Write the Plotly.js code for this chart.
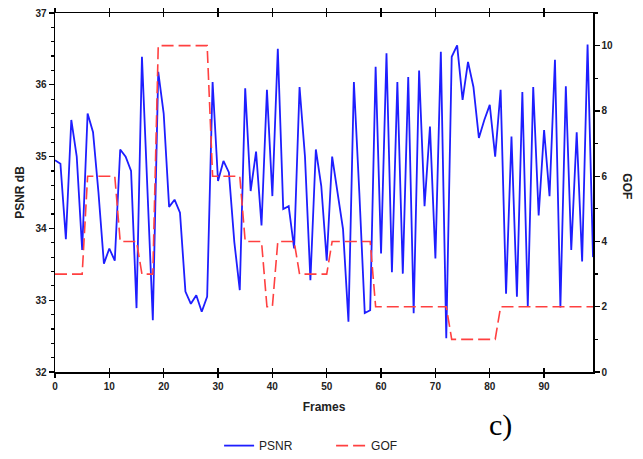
<!DOCTYPE html>
<html>
<head>
<meta charset="utf-8">
<script src="https://cdn.plot.ly/plotly-3.0.1.min.js"></script>
<style>html,body{margin:0;padding:0;background:#fff;}#chart{width:643px;height:459px;}</style>
</head>
<body>
<div id="chart"></div>
<script>
// Frame indices
const frames = [];
for (let i = 0; i < 100; i++) frames.push(i);

// PSNR (dB) per frame
const psnr = [
  34.95, 34.90, 33.85, 35.51, 35.00, 33.70, 35.60, 35.34, 34.50, 33.51,
  33.72, 33.55, 35.10, 35.00, 34.80, 32.89, 36.39, 34.60, 32.72, 36.18,
  35.60, 34.30, 34.40, 34.22, 33.12, 32.95, 33.07, 32.84, 33.05, 36.04,
  34.66, 34.94, 34.78, 33.81, 33.14, 35.95, 34.52, 35.07, 34.04, 35.93,
  34.45, 36.50, 34.27, 34.31, 33.72, 35.97, 35.00, 33.28, 35.10, 34.59,
  33.55, 35.00, 34.50, 33.99, 32.70, 36.04, 34.50, 32.82, 32.86, 36.25,
  33.65, 36.44, 33.39, 36.04, 33.37, 36.11, 32.82, 36.20, 34.31, 35.42,
  33.58, 36.46, 32.47, 36.39, 36.55, 35.79, 36.32, 35.97, 35.26, 35.51,
  35.72, 35.00, 35.93, 33.09, 35.28, 33.05, 35.90, 32.91, 35.97, 34.18,
  35.37, 34.45, 36.35, 32.90, 35.98, 33.70, 35.34, 33.54, 36.56, 33.60
];

// GOF per frame
const gof = [
  3, 3, 3, 3, 3, 3, 6, 6, 6, 6,
  6, 6, 4, 4, 4, 4, 3, 3, 3, 10,
  10, 10, 10, 10, 10, 10, 10, 10, 10, 6,
  6, 6, 6, 6, 6, 4, 4, 4, 4, 2,
  2, 4, 4, 4, 4, 3, 3, 3, 3, 3,
  3, 4, 4, 4, 4, 4, 4, 4, 4, 2,
  2, 2, 2, 2, 2, 2, 2, 2, 2, 2,
  2, 2, 2, 1, 1, 1, 1, 1, 1, 1,
  1, 1, 2, 2, 2, 2, 2, 2, 2, 2,
  2, 2, 2, 2, 2, 2, 2, 2, 2, 2
];

const seriesNames = ["PSNR", "GOF"];
const xTitle = "Frames";
const yTitle = "PSNR dB";
const y2Title = "GOF";
const panelLabel = "c)";

const tickFont = {family: "Liberation Sans, Arial, sans-serif", size: 10, color: "#222", weight: "bold"};
const titleFont = {family: "Liberation Sans, Arial, sans-serif", size: 12, color: "#222", weight: "bold"};

const traces = [
  {
    x: frames, y: psnr, name: seriesNames[0], type: "scatter", mode: "lines",
    line: {color: "#1e1eff", width: 1.8},
    xaxis: "x", yaxis: "y"
  },
  {
    x: frames, y: gof, name: seriesNames[1], type: "scatter", mode: "lines",
    line: {color: "#ff4040", width: 1.6, dash: "12px,5px"},
    xaxis: "x2", yaxis: "y2"
  }
];

const layout = {
  width: 643, height: 459,
  margin: {l: 55, r: 50, t: 13, b: 87, autoexpand: false},
  paper_bgcolor: "#fff", plot_bgcolor: "#fff",
  showlegend: true,
  legend: {
    orientation: "h", x: 0.305, xanchor: "left", y: -0.205, yanchor: "middle",
    font: {family: "Liberation Sans, Arial, sans-serif", size: 12, color: "#222"},
    itemwidth: 30, entrywidth: 67, entrywidthmode: "pixels",
    bgcolor: "rgba(0,0,0,0)"
  },
  xaxis: {
    range: [0, 99], tick0: 0, dtick: 10,
    ticks: "outside", ticklen: 4, tickwidth: 1.3, tickcolor: "#000",
    showline: true, linecolor: "#000", linewidth: 1.5, mirror: "ticks",
    showgrid: false, zeroline: false,
    tickfont: tickFont,
    title: {text: xTitle, font: titleFont, standoff: 12}
  },
  xaxis2: {
    overlaying: "x", range: [0, 99], tick0: 0, dtick: 10,
    ticks: "inside", ticklen: 4, tickwidth: 1.3, tickcolor: "#000",
    mirror: "ticks", showline: false, showticklabels: false,
    showgrid: false, zeroline: false
  },
  yaxis: {
    range: [32, 37], tick0: 32, dtick: 1,
    ticks: "outside", ticklen: 5, tickwidth: 1.3, tickcolor: "#000",
    minor: {dtick: 0.2, ticks: "outside", ticklen: 3, tickwidth: 1.2, tickcolor: "#000"},
    showline: true, linecolor: "#000", linewidth: 1.5,
    showgrid: false, zeroline: false,
    tickfont: tickFont,
    title: {text: yTitle, font: titleFont, standoff: 8}
  },
  yaxis2: {
    overlaying: "y", side: "right", range: [0, 11], tick0: 0, dtick: 2,
    ticks: "outside", ticklen: 5, tickwidth: 1.3, tickcolor: "#000",
    minor: {dtick: 1, ticks: "outside", ticklen: 3, tickwidth: 1.2, tickcolor: "#000"},
    showline: true, linecolor: "#000", linewidth: 1.5,
    showgrid: false, zeroline: false,
    tickfont: tickFont
  },
  annotations: [
    {
      text: y2Title, xref: "paper", yref: "paper", x: 1.064, y: 0.516,
      xanchor: "center", yanchor: "middle", textangle: 90, showarrow: false,
      font: titleFont
    },
    {
      text: panelLabel, xref: "paper", yref: "paper", x: 0.8276, y: -0.147,
      xanchor: "center", yanchor: "middle", showarrow: false,
      font: {family: "Liberation Serif, Times New Roman, serif", size: 30, color: "#000"}
    }
  ]
};

Plotly.newPlot("chart", traces, layout, {displayModeBar: false, staticPlot: true});
</script>
</body>
</html>
